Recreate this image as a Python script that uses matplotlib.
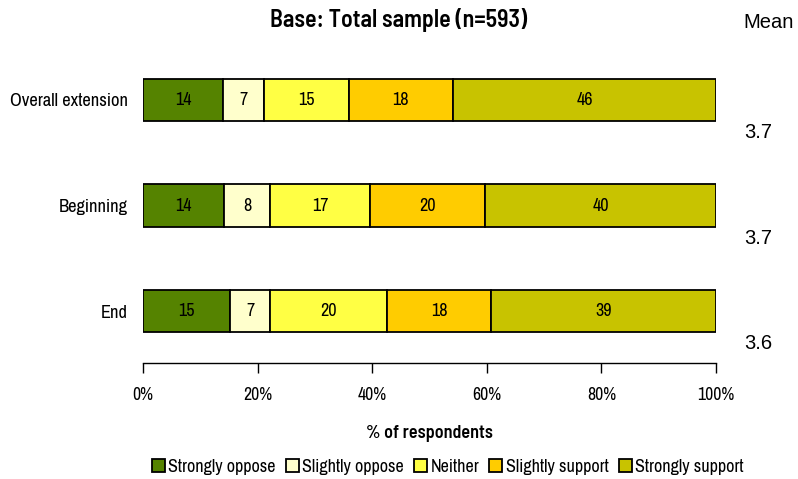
import matplotlib
matplotlib.use('Agg')
import matplotlib.pyplot as plt
import numpy as np

plt.rcParams['font.family'] = ['Archivo Narrow', 'DejaVu Sans']
bold_font = ['Barlow Semi Condensed', 'DejaVu Sans']

# data
rows = ['Overall extension', 'Beginning', 'End']
series = ['Strongly oppose', 'Slightly oppose', 'Neither', 'Slightly support', 'Strongly support']
strongly_oppose = [14.0, 14.1, 15.2]
slightly_oppose = [7.1, 8.1, 7.0]
neither = [14.8, 17.4, 20.4]
slightly_support = [18.2, 20.1, 18.1]
strongly_support = [45.9, 40.3, 39.3]
means = ['3.7', '3.7', '3.6']
colors = ['#558300', '#FFFFCC', '#FFFF44', '#FFCC00', '#C8C300']

values = [strongly_oppose, slightly_oppose, neither, slightly_support, strongly_support]

fig = plt.figure(figsize=(7.98, 4.79), dpi=100)
ax = fig.add_axes([0.1792, 0.2422, 0.718, 0.6597])

y = np.arange(len(rows))
left = np.zeros(len(rows))
for vals, name, c in zip(values, series, colors):
    vals = np.array(vals)
    ax.barh(y, vals, left=left, height=0.4, color=c, edgecolor='black',
            linewidth=1.3, label=name)
    for yi, l, v in zip(y, left, vals):
        ax.text(l + v / 2, yi, '%d' % round(v), ha='center', va='center', fontsize=13)
    left += vals

ax.set_xlim(0, 100)
ax.set_ylim(2.49, -0.5)
ax.set_yticks(y)
ax.set_yticklabels(rows, fontsize=13.3)
ax.tick_params(axis='y', length=0, pad=11)
ax.set_xticks([0, 20, 40, 60, 80, 100])
ax.set_xticklabels(['0%', '20%', '40%', '60%', '80%', '100%'], fontsize=12.8)
ax.tick_params(axis='x', length=7, width=1, pad=10)
for s in ['top', 'right', 'left']:
    ax.spines[s].set_visible(False)
ax.spines['bottom'].set_linewidth(1)
ax.set_xlabel('% of respondents', fontsize=13, fontweight='semibold', family=bold_font,
              labelpad=16)

fig.text(0.5, 0.958, 'Base: Total sample (n=593)', ha='center', va='center',
         fontsize=17.2, fontweight='semibold', family=bold_font)
fig.text(743 / 798, 1 - 22 / 479, 'Mean', ha='left', va='center', fontsize=14.5,
         family=['Liberation Sans', 'DejaVu Sans'])
for yi, m in zip(y, means):
    ax.text(104.9, yi + 0.31, m, ha='left', va='center', fontsize=14.5,
            family=['Liberation Sans', 'DejaVu Sans'], clip_on=False)

fig.legend(loc='center', bbox_to_anchor=(0.561, 0.026), ncol=5, fontsize=13,
           frameon=False, handlelength=0.72, handleheight=0.72, handletextpad=0.2,
           columnspacing=0.55, borderaxespad=0)

fig.savefig('out.png', dpi=100)
